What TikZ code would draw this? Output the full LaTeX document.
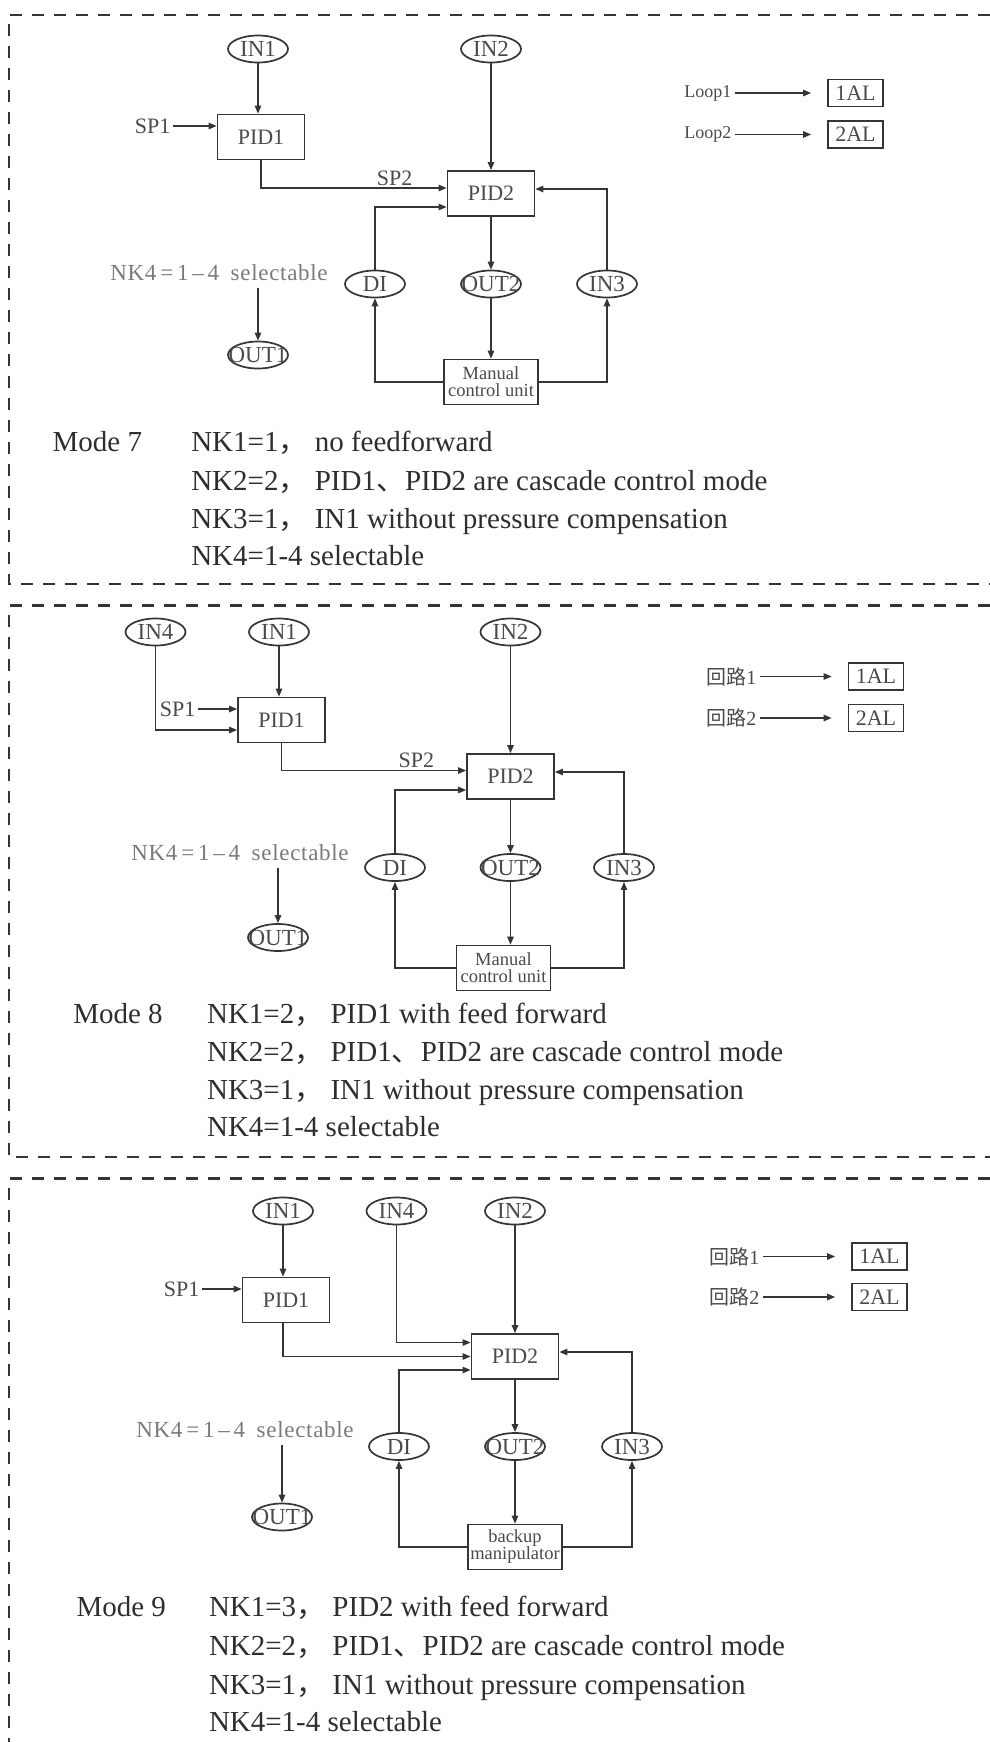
\documentclass[tikz,border=0pt]{standalone}
\usepackage{fontspec}
\setmainfont{Liberation Serif}
\newfontfamily\cjk{Noto Sans CJK SC}
\usepackage{tikz}
\usetikzlibrary{shapes.geometric, arrows.meta}
\definecolor{inkc}{HTML}{353535}
\definecolor{labc}{HTML}{4A4A4A}
\definecolor{capc}{HTML}{2E2E2E}
\definecolor{grayc}{HTML}{7A7A7A}
\newcommand{\zcomma}{{\cjk ，}}
\newcommand{\zdun}{{\cjk 、}}

\begin{document}
\begin{tikzpicture}[x=0.5pt, y=-0.5pt, color=inkc, line width=0.7pt,
    >={Triangle[length=4pt, width=3.2pt]},
    sig/.style={ellipse, draw, line width=0.85pt, minimum width=30pt, minimum height=13.5pt, inner sep=0pt,
      text=labc, font=\fontsize{11.5}{11.5}\selectfont,
      execute at begin node={\hbox to 0pt\bgroup\hss}, execute at end node={\hss\egroup}},
    blk/.style={draw, line width=0.85pt, minimum width=43.5pt, minimum height=22.5pt, inner sep=0pt,
      text=labc, font=\fontsize{11}{11}\selectfont},
    hand/.style={draw, line width=0.85pt, minimum width=47pt, minimum height=22.5pt, inner sep=0pt,
      align=center, text=labc, font=\fontsize{9.25}{8.5}\selectfont},
    alm/.style={draw, line width=0.85pt, minimum width=27.5pt, minimum height=13.5pt, inner sep=0pt,
      text=labc, font=\fontsize{11}{11}\selectfont},
    lbl/.style={inner sep=1pt, text=labc, font=\fontsize{11}{11}\selectfont},
    lp/.style={inner sep=1.5pt, text=labc, font=\fontsize{9}{9}\selectfont},
    lpc/.style={lp, font=\fontsize{10}{10}\selectfont},
    gr/.style={text=grayc, font=\fontsize{11.5}{12}\selectfont\addfontfeatures{LetterSpace=3}},
    desc/.style={anchor=base west, inner sep=0pt, text=capc, font=\fontsize{14.5}{17}\selectfont},
    panel/.style={dash pattern=on 6pt off 5pt, line width=1.3pt}]
  \useasboundingbox (0,0) rectangle (990,1742);

  \draw[panel] (990,15) -- (9,15) -- (9,584) -- (990,584);
  \node[sig]       (in1a) at (258,49)      {IN1};
  \node[sig]       (in2a) at (491,49)      {IN2};
  \node[blk]       (p1a)  at (261,137)     {PID1};
  \node[lbl, left] (sp1a) at (173,126)     {SP1};
  \node[blk]       (p2a)  at (491,193.5)   {PID2};
  \node[sig]       (dia)  at (375,284)     {DI};
  \node[sig]       (o2a)  at (491,284)     {OUT2};
  \node[sig]       (in3a) at (607,284)     {IN3};
  \node[hand]      (mua)  at (491,382)     {Manual\\control unit};
  \node[gr]        (nka)  at (219,272.5)   {NK4\,=\,1\,–\,4\enspace selectable};
  \node[sig]       (o1a)  at (258,355)     {OUT1};
  \node[lp, left]  (l1a)  at (735,93)      {Loop1};
  \node[lp, left]  (l2a)  at (735,134.5)   {Loop2};
  \node[alm]       (a1a)  at (855.5,93)    {1AL};
  \node[alm]       (a2a)  at (855.5,134.5) {2AL};
  \draw[->] (in1a) -- (in1a |- p1a.north);
  \draw[->] (sp1a) -- (sp1a -| p1a.west);
  \draw[->] (p1a.south) |- node[lbl, above, pos=0.86] (sp2a) {SP2} ([yshift=2.75pt]p2a.west);
  \draw[->] (in2a) -- (p2a);
  \draw[->] (p2a) -- (o2a);
  \draw[->] (o2a) -- (mua);
  \draw[->] (mua.west) -| (dia);
  \draw[->] (mua.east) -| (in3a);
  \draw[->] (dia) |- ([yshift=-6.75pt]p2a.west);
  \draw[->] (in3a) |- ([yshift=2.25pt]p2a.east);
  \draw[->] (o1a |- nka.south) -- (o1a);
  \draw[->, shorten >=8pt] (l1a) -- (a1a);
  \draw[->, shorten >=8pt] (l2a) -- (a2a);
  \node[desc] (m7) at (52,451.5) {Mode 7};
  \foreach \i/\y/\t in {1/451.5/{NK1=1\zcomma\ no feedforward},
                        2/490.5/{NK2=2\zcomma\ PID1\zdun PID2 are cascade control mode},
                        3/528/{NK3=1\zcomma\ IN1 without pressure compensation},
                        4/565.5/{NK4=1-4 selectable}}
    \node[desc] (t7\i) at (190.6,\y) {\t};

  \draw[panel] (990,605.5) -- (9,605.5) -- (9,1157) -- (990,1157);
  \node[sig]       (in4b) at (155.5,632)   {IN4};
  \node[sig]       (in1b) at (279,632)     {IN1};
  \node[sig]       (in2b) at (510.5,632)   {IN2};
  \node[blk]       (p1b)  at (281.5,720)   {PID1};
  \node[lbl, left] (sp1b) at (198,709)     {SP1};
  \node[blk]       (p2b)  at (510.5,776.5) {PID2};
  \node[sig]       (dib)  at (395,867.5)   {DI};
  \node[sig]       (o2b)  at (510.5,867.5) {OUT2};
  \node[sig]       (in3b) at (624,867.5)   {IN3};
  \node[hand]      (mub)  at (503.5,968)   {Manual\\control unit};
  \node[gr]        (nkb)  at (240,852.5)   {NK4\,=\,1\,–\,4\enspace selectable};
  \node[sig]       (o1b)  at (278,937.5)   {OUT1};
  \node[lpc, left] (l1b)  at (760,676.5)   {{\cjk 回路}1};
  \node[lpc, left] (l2b)  at (760,718)     {{\cjk 回路}2};
  \node[alm]       (a1b)  at (876,676.5)   {1AL};
  \node[alm]       (a2b)  at (876,718)     {2AL};
  \draw[->] (in4b) |- ([yshift=-5pt]p1b.west);
  \draw[->] (in1b) -- (in1b |- p1b.north);
  \draw[->] (sp1b) -- (sp1b -| p1b.west);
  \draw[->] (p1b.south) |- node[lbl, above, pos=0.865] (sp2b) {SP2} ([yshift=3pt]p2b.west);
  \draw[->] (in2b) -- (p2b);
  \draw[->] (p2b) -- (o2b);
  \draw[->] (o2b) -- (o2b |- mub.north);
  \draw[->] (mub.west) -| (dib);
  \draw[->] (mub.east) -| (in3b);
  \draw[->] (dib) |- ([yshift=-6.75pt]p2b.west);
  \draw[->] (in3b) |- ([yshift=2.25pt]p2b.east);
  \draw[->] (o1b |- nkb.south) -- (o1b);
  \draw[->, shorten >=8pt] (l1b) -- (a1b);
  \draw[->, shorten >=8pt] (l2b) -- (a2b);
  \node[desc] (m8) at (72.6,1023) {Mode 8};
  \foreach \i/\y/\t in {1/1023/{NK1=2\zcomma\ PID1 with feed forward},
                        2/1061.5/{NK2=2\zcomma\ PID1\zdun PID2 are cascade control mode},
                        3/1099.5/{NK3=1\zcomma\ IN1 without pressure compensation},
                        4/1136.5/{NK4=1-4 selectable}}
    \node[desc] (t8\i) at (206.4,\y) {\t};

  \draw[panel] (990,1178.5) -- (9,1178.5) -- (9,1742);
  \node[sig]       (in1c) at (283,1211)     {IN1};
  \node[sig]       (in4c) at (396.5,1211)   {IN4};
  \node[sig]       (in2c) at (515,1211)     {IN2};
  \node[blk]       (p1c)  at (286,1300)     {PID1};
  \node[lbl, left] (sp1c) at (202,1289)     {SP1};
  \node[blk]       (p2c)  at (515,1356.5)   {PID2};
  \node[sig]       (dic)  at (399,1446.5)   {DI};
  \node[sig]       (o2c)  at (515,1446.5)   {OUT2};
  \node[sig]       (in3c) at (632,1446.5)   {IN3};
  \node[hand]      (muc)  at (515,1547)     {backup\\manipulator};
  \node[gr]        (nkc)  at (245,1430)     {NK4\,=\,1\,–\,4\enspace selectable};
  \node[sig]       (o1c)  at (282,1517)     {OUT1};
  \node[lpc, left] (l1c)  at (763,1256.5)   {{\cjk 回路}1};
  \node[lpc, left] (l2c)  at (763,1297)     {{\cjk 回路}2};
  \node[alm]       (a1c)  at (879.5,1256.5) {1AL};
  \node[alm]       (a2c)  at (879.5,1297)   {2AL};
  \draw[->] (in1c) -- (in1c |- p1c.north);
  \draw[->] (sp1c) -- (sp1c -| p1c.west);
  \draw[->] (in4c) |- ([yshift=7pt]p2c.west);
  \draw[->] (p1c.south -| in1c) |- (p2c.west);
  \draw[->] (in2c) -- (p2c);
  \draw[->] (p2c) -- (o2c);
  \draw[->] (o2c) -- (muc);
  \draw[->] (muc.west) -| (dic);
  \draw[->] (muc.east) -| (in3c);
  \draw[->] (dic) |- ([yshift=-6.75pt]p2c.west);
  \draw[->] (in3c) |- ([yshift=2.25pt]p2c.east);
  \draw[->] (o1c |- nkc.south) -- (o1c);
  \draw[->, shorten >=8pt] (l1c) -- (a1c);
  \draw[->, shorten >=8pt] (l2c) -- (a2c);
  \node[desc] (m9) at (75.8,1616.5) {Mode 9};
  \foreach \i/\y/\t in {1/1616.5/{NK1=3\zcomma\ PID2 with feed forward},
                        2/1655.5/{NK2=2\zcomma\ PID1\zdun PID2 are cascade control mode},
                        3/1694/{NK3=1\zcomma\ IN1 without pressure compensation},
                        4/1731.5/{NK4=1-4 selectable}}
    \node[desc] (t9\i) at (208.3,\y) {\t};
\end{tikzpicture}
\end{document}
